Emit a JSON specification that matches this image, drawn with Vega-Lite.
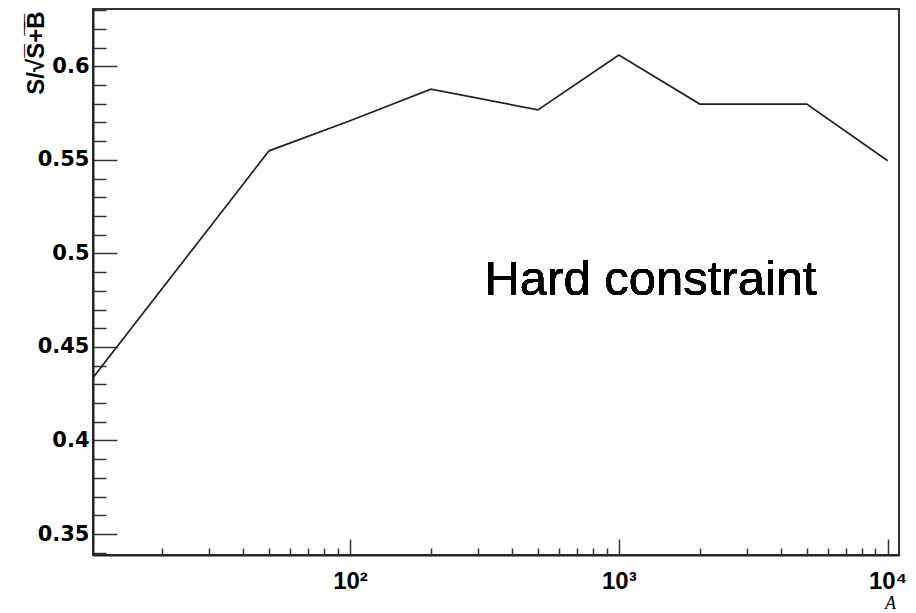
{
  "$schema": "https://vega.github.io/schema/vega-lite/v6.json",
  "width": 806,
  "height": 546,
  "autosize": {"type": "none"},
  "padding": {"left": 93, "top": 9, "right": 17, "bottom": 58},
  "background": "white",
  "config": {"view": {"stroke": "#333", "strokeWidth": 2}, "axis": {"grid": false}},
  "data": {"values": [
    {"A": 10, "sig": 0.4254},
    {"A": 50, "sig": 0.5548},
    {"A": 100, "sig": 0.5709},
    {"A": 200, "sig": 0.5878},
    {"A": 500, "sig": 0.5767},
    {"A": 1000, "sig": 0.606},
    {"A": 2000, "sig": 0.5798},
    {"A": 5000, "sig": 0.5798},
    {"A": 10000, "sig": 0.5495}
  ]},
  "layer": [
    {
      "mark": {"type": "line", "color": "#222", "strokeWidth": 1.7, "clip": true},
      "encoding": {
        "x": {"field": "A", "type": "quantitative",
          "scale": {"type": "log", "domain": [11.07, 11016], "nice": false},
          "axis": {"orient": "bottom", "values": [100, 1000, 10000], "tickSize": -16, "labelPadding": 30,
            "labelExpr": "datum.value == 100 ? '10²' : datum.value == 1000 ? '10³' : '10⁴'",
            "labelFont": "Liberation Sans", "labelFontWeight": "bold", "labelFontSize": 24, "labelColor": "black",
            "labelFlush": false, "labelOverlap": false,
            "domainColor": "#222", "domainWidth": 2, "tickColor": "#333", "tickWidth": 1.5,
            "title": "A", "titleFont": "Liberation Serif", "titleFontStyle": "italic", "titleFontWeight": "normal",
            "titleFontSize": 18, "titleColor": "black", "titleX": 797, "titleY": 53, "titleAlign": "center", "titleBaseline": "alphabetic"}},
        "y": {"field": "sig", "type": "quantitative",
          "scale": {"domain": [0.3388, 0.6306], "nice": false, "zero": false},
          "axis": {"orient": "left", "values": [0.35, 0.4, 0.45, 0.5, 0.55, 0.6], "format": "~g", "tickSize": -24, "labelPadding": 28,
            "labelFont": "DejaVu Sans", "labelFontWeight": "bold", "labelFontSize": 21, "labelColor": "black",
            "labelFlush": false, "labelOverlap": false,
            "domainColor": "#222", "domainWidth": 2, "tickColor": "#333", "tickWidth": 1.5,
            "title": "S/√S̅+̅B̅", "titleFont": "Liberation Sans", "titleFontWeight": "bold", "titleFontSize": 24, "titleColor": "black",
            "titleAngle": -90, "titleX": -50, "titleY": 2, "titleAlign": "right", "titleBaseline": "alphabetic"}}
      }
    },
    {
      "mark": {"type": "line", "opacity": 0},
      "encoding": {
        "x": {"field": "A", "type": "quantitative",
          "axis": {"orient": "bottom", "values": [20, 30, 40, 50, 60, 70, 80, 90, 200, 300, 400, 500, 600, 700, 800, 900, 2000, 3000, 4000, 5000, 6000, 7000, 8000, 9000],
            "tickSize": -7, "labels": false, "domain": false, "tickColor": "#333", "tickWidth": 1.5, "title": null}},
        "y": {"field": "sig", "type": "quantitative",
          "axis": {"orient": "left", "values": [0.34, 0.36, 0.37, 0.38, 0.39, 0.41, 0.42, 0.43, 0.44, 0.46, 0.47, 0.48, 0.49, 0.51, 0.52, 0.53, 0.54, 0.56, 0.57, 0.58, 0.59, 0.61, 0.62, 0.63],
            "tickSize": -13, "labels": false, "domain": false, "tickColor": "#333", "tickWidth": 1.5, "title": null}}
      }
    },
    {
      "mark": {"type": "text", "font": "Liberation Sans", "fontSize": 49, "color": "black", "align": "center", "baseline": "alphabetic"},
      "encoding": {
        "x": {"datum": 1312, "type": "quantitative", "axis": null},
        "y": {"datum": 0.4777, "type": "quantitative", "axis": null},
        "text": {"value": "Hard constraint"}
      }
    }
  ],
  "resolve": {"axis": {"x": "independent", "y": "independent"}}
}
